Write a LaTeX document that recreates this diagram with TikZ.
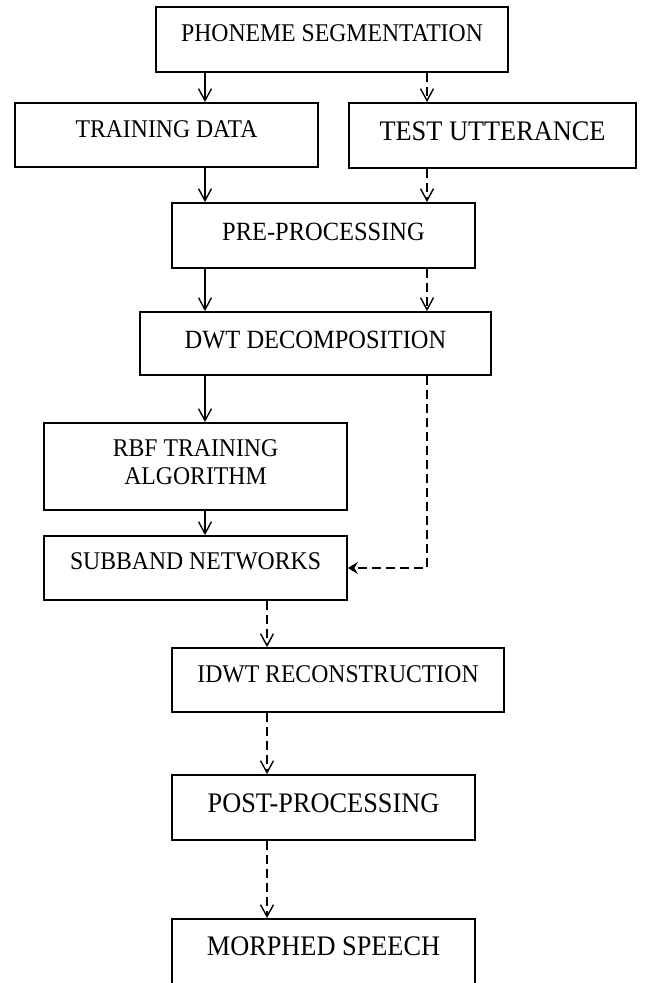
\documentclass[tikz,border=0pt]{standalone}
\usepackage{fontspec}
\setmainfont{Liberation Serif}[FakeStretch=0.93]
\usetikzlibrary{arrows.meta}

\tikzset{
  x=1pt, y=-1pt,
  box/.style={draw, line width=1.8pt, rectangle, inner sep=0pt},
  lbl/.style={anchor=base, inner sep=0pt},
  sizeA/.style={font=\fontsize{25.5}{29}\selectfont},
  sizeB/.style={font=\fontsize{26.3}{30}\selectfont},
  sizeC/.style={font=\fontsize{28.3}{32}\selectfont},
  flow/.style={line width=1.4pt, -{Straight Barb[length=12pt,width=13pt,line width=1.4pt]}},
  solidflow/.style={flow},
  dashflow/.style={flow, dash pattern=on 9pt off 5pt},
}

\begin{document}
\begin{tikzpicture}
\useasboundingbox (0,0) rectangle (653,983);

% columns of the vertical connectors
\coordinate (colA) at (205,0);
\coordinate (colB) at (427,0);
\coordinate (colC) at (267,0);

% boxes
\node[box, minimum width=352pt, minimum height=65pt] (phon)  at (332,39.5)   {};
\node[box, minimum width=303pt, minimum height=64pt] (train) at (166.5,135)  {};
\node[box, minimum width=287pt, minimum height=65pt] (test)  at (492.5,135.5){};
\node[box, minimum width=303pt, minimum height=65pt] (pre)   at (323.5,235.5){};
\node[box, minimum width=351pt, minimum height=63pt] (dwt)   at (315.5,343.5){};
\node[box, minimum width=303pt, minimum height=87pt] (rbf)   at (195.5,466.5){};
\node[box, minimum width=303pt, minimum height=64pt] (sub)   at (195.5,568)  {};
\node[box, minimum width=332pt, minimum height=64pt] (idwt)  at (338,680)    {};
\node[box, minimum width=303pt, minimum height=65pt] (post)  at (323.5,807.5){};
\node[box, minimum width=303pt, minimum height=75pt] (morph) at (323.5,956.5){};

% labels
\node[lbl, sizeA] (phonT)  at (332,41)    {PHONEME SEGMENTATION};
\node[lbl, sizeA] (trainT) at (166.5,137) {TRAINING DATA};
\node[lbl, sizeC] (testT)  at (492.5,140) {TEST UTTERANCE};
\node[lbl, sizeB] (preT)   at (323.5,240) {PRE-PROCESSING};
\node[lbl, sizeB] (dwtT)   at (315.5,348) {DWT DECOMPOSITION};
\node[lbl, sizeA] (rbfT1)  at (195.5,456) {RBF TRAINING};
\node[lbl, sizeA] (rbfT2)  at (195.5,484) {ALGORITHM};
\node[lbl, sizeA] (subT)   at (195.5,569) {SUBBAND NETWORKS};
\node[lbl, sizeA] (idwtT)  at (338,682)   {IDWT RECONSTRUCTION};
\node[lbl, sizeC] (postT)  at (323.5,812) {POST-PROCESSING};
\node[lbl, sizeC] (morphT) at (323.5,955) {MORPHED SPEECH};

% training path (solid)
\draw[solidflow] (phon.south -| colA)  -- (train.north -| colA);
\draw[solidflow] (train.south -| colA) -- (pre.north -| colA);
\draw[solidflow] (pre.south -| colA)   -- (dwt.north -| colA);
\draw[solidflow] (dwt.south -| colA)   -- (rbf.north -| colA);
\draw[solidflow] (rbf.south -| colA)   -- (sub.north -| colA);

% test path (dashed)
\draw[dashflow] (phon.south -| colB) -- (test.north -| colB);
\draw[dashflow] (test.south -| colB) -- (pre.north -| colB);
\draw[dashflow] (pre.south -| colB)  -- (dwt.north -| colB);
\draw[line width=1.4pt, dash pattern=on 9pt off 5pt,
      -{Stealth[length=10pt,width=12pt,inset=3.5pt]}]
  (dwt.south -| colB) |- (sub.east);
\draw[dashflow] (sub.south -| colC)  -- (idwt.north -| colC);
\draw[dashflow] (idwt.south -| colC) -- (post.north -| colC);
\draw[dashflow] (post.south -| colC) -- (morph.north -| colC);
\end{tikzpicture}
\end{document}
